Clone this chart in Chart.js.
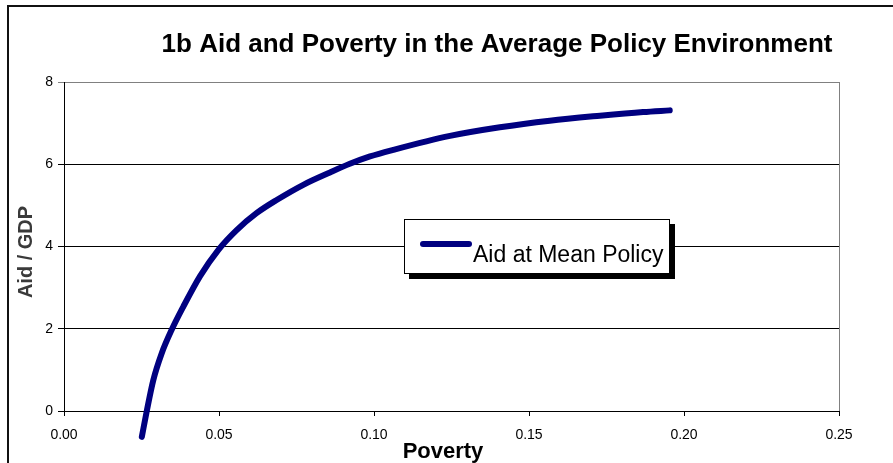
<!DOCTYPE html>
<html>
<head>
<meta charset="utf-8">
<title>Aid and Poverty</title>
<script src="https://cdn.jsdelivr.net/npm/chart.js@4.4.1/dist/chart.umd.min.js"></script>
<style>
  body { margin: 0; background: #fff; }
</style>
</head>
<body>
<canvas id="aidPovertyChart" width="893" height="463"></canvas>
<script>
// poverty (x) and aid / GDP (y) along the mean-policy curve
let poverty = [0.0251, 0.0267, 0.0288, 0.0315, 0.0347, 0.0385, 0.0439, 0.0498, 0.0557, 0.0621,
               0.0686, 0.0772, 0.0858, 0.0922, 0.0987, 0.1062, 0.1245, 0.1406, 0.1567, 0.1729,
               0.1868, 0.1954];
let aidGdp = [-0.63, 0.0, 0.75, 1.40, 1.97, 2.54, 3.28, 3.92, 4.40, 4.81,
              5.13, 5.50, 5.80, 6.01, 6.19, 6.35, 6.69, 6.90, 7.06, 7.18,
              7.27, 7.31];

let seriesLabel = 'Aid at Mean Policy';
let chartTitle = '1b Aid and Poverty in the Average Policy Environment';
let xTitle = 'Poverty';
let yTitle = 'Aid / GDP';

let fontFamily = '"Liberation Sans", Arial, sans-serif';

let points = poverty.map((p, i) => ({ x: p, y: aidGdp[i] }));

// frame, titles and the boxed legend are painted by hand
let decorations = {
    id: 'decorations',
    beforeDatasetsDraw(chart) {
        let c = chart.ctx;
        let area = chart.chartArea;
        c.save();
        c.strokeStyle = '#808080';
        c.lineWidth = 1;
        c.beginPath();
        c.moveTo(Math.round(area.right) + 0.5, area.top);
        c.lineTo(Math.round(area.right) + 0.5, area.bottom);
        c.stroke();
        c.restore();
    },
    afterDraw(chart) {
        let c = chart.ctx;
        c.save();

        // outer frame
        c.strokeStyle = '#111';
        c.lineWidth = 2;
        c.beginPath();
        c.moveTo(8, 463);
        c.lineTo(8, 6);
        c.lineTo(893, 6);
        c.stroke();

        // title
        c.fillStyle = '#000';
        c.font = 'bold 26px ' + fontFamily;
        c.textAlign = 'center';
        c.textBaseline = 'alphabetic';
        c.fillText(chartTitle, 497, 52);

        // x axis title
        c.font = 'bold 22px ' + fontFamily;
        c.fillText(xTitle, 443, 458);

        // y axis title
        c.save();
        c.translate(32, 252);
        c.rotate(-Math.PI / 2);
        c.filter = 'blur(0.5px)';
        c.fillStyle = '#3a3a3a';
        c.font = 'bold 20px ' + fontFamily;
        c.fillText(yTitle, 0, 0);
        c.restore();

        // legend box with shadow
        let ds = chart.data.datasets[0];
        c.fillStyle = '#000';
        c.fillRect(409, 224, 266, 55);
        c.fillStyle = '#fff';
        c.fillRect(404, 219, 266, 55);
        c.strokeStyle = '#000';
        c.lineWidth = 1;
        c.strokeRect(404.5, 219.5, 265, 54);
        c.strokeStyle = ds.borderColor;
        c.lineWidth = 6;
        c.lineCap = 'round';
        c.beginPath();
        c.moveTo(423, 244);
        c.lineTo(469, 244);
        c.stroke();
        c.fillStyle = '#000';
        c.font = '23px ' + fontFamily;
        c.textAlign = 'left';
        c.fillText(ds.label, 473, 262);

        c.restore();
    }
};

let ctx = document.getElementById('aidPovertyChart').getContext('2d');
let aidPovertyChart = new Chart(ctx, {
    type: 'scatter',
    data: {
        datasets: [{
            label: seriesLabel,
            data: points,
            showLine: true,
            borderColor: '#000080',
            backgroundColor: '#000080',
            borderWidth: 6,
            borderCapStyle: 'round',
            borderJoinStyle: 'round',
            pointRadius: 0,
            cubicInterpolationMode: 'monotone',
            clip: false
        }]
    },
    options: {
        responsive: false,
        animation: false,
        layout: {
            padding: { left: 0, top: 82, right: 54, bottom: 0 }
        },
        plugins: {
            legend: { display: false },
            title: { display: false },
            tooltip: { enabled: false }
        },
        scales: {
            x: {
                type: 'linear',
                min: 0,
                max: 0.25,
                afterFit(scale) { scale.height = 52; },
                border: { color: '#000', width: 1 },
                grid: {
                    drawOnChartArea: false,
                    drawTicks: true,
                    tickLength: 5,
                    color: '#000'
                },
                ticks: {
                    stepSize: 0.05,
                    padding: 11,
                    color: '#000',
                    font: { family: fontFamily, size: 14 },
                    maxRotation: 0,
                    callback: v => v.toFixed(2)
                }
            },
            y: {
                min: 0,
                max: 8,
                afterFit(scale) { scale.width = 64; },
                border: { color: '#000', width: 1 },
                grid: {
                    drawTicks: true,
                    tickLength: 6,
                    color: c => c.tick && c.tick.value === 8 ? '#808080' : '#000'
                },
                ticks: {
                    stepSize: 2,
                    padding: 5,
                    color: '#000',
                    font: { family: fontFamily, size: 14 }
                }
            }
        }
    },
    plugins: [decorations]
});
</script>
</body>
</html>
